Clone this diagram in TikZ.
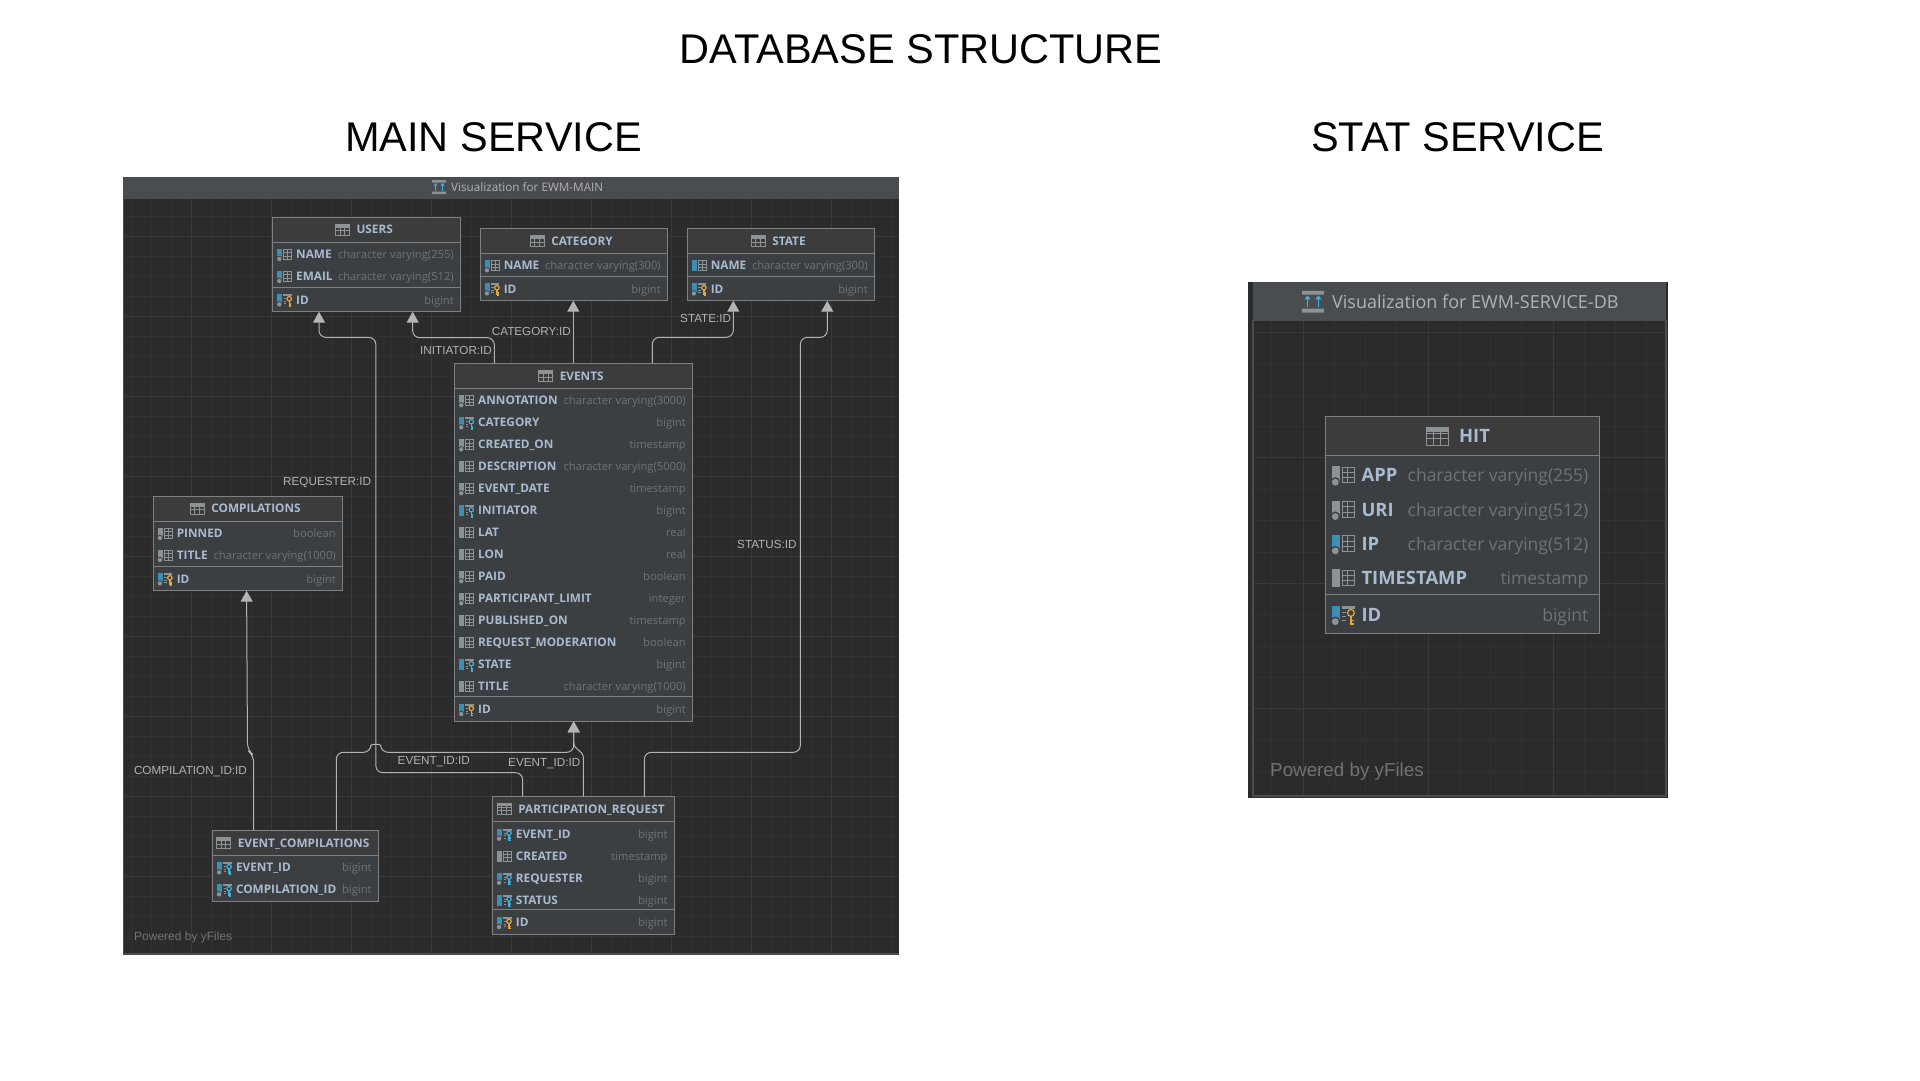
\documentclass[tikz,border=0pt]{standalone}
\usepackage{fontspec}
\usepackage{xcolor}
\usepackage{tikz}
\usetikzlibrary{arrows.meta}
\setmainfont{Liberation Sans}
\newfontfamily\dbfont{Open Sans}
\definecolor{EWMBack}{HTML}{2B2B2B}
\definecolor{EWMGrid}{HTML}{313131}
\definecolor{EWMMajor}{HTML}{393939}
\definecolor{EWMBar}{HTML}{4A4D50}
\definecolor{EWMRow}{HTML}{3C3F41}
\definecolor{EWMHead}{HTML}{3C3C3C}
\definecolor{EWMLine}{HTML}{7E8082}
\definecolor{EWMName}{HTML}{A9BBD0}
\definecolor{EWMType}{HTML}{707274}
\definecolor{EWMLink}{HTML}{B4B4B4}
\definecolor{EWMLabel}{HTML}{B0B2B4}
\definecolor{EWMBlue}{HTML}{3B8FB4}
\definecolor{EWMGray}{HTML}{8D9294}
\definecolor{EWMKeyB}{HTML}{40B0DC}
\definecolor{EWMKeyG}{HTML}{E5A73A}
\def\nokw{none}
\def\yeskw{yes}
\tikzset{
  tbicon/.pic={
    \draw[EWMGray, line width=0.8pt] (-7,-5.5) rectangle (7,5.5);
    \draw[EWMGray, line width=0.8pt] (-7,-2.2) -- (7,-2.2) (-7,1.2) -- (7,1.2)
      (-2.3,-5.5) -- (-2.3,5.5) (2.3,-5.5) -- (2.3,5.5);
    \fill[EWMGray] (-7,-5.5) rectangle (7,-3);
  },
  viewicon/.pic={
    \fill[EWMGray] (-7,-7) rectangle (7,-4.5) (-7,4.5) rectangle (7,7);
    \draw[EWMKeyB, line width=1pt] (-3.5,3.5) -- (-3.5,-2) (3.5,3.5) -- (3.5,-2);
    \fill[EWMKeyB] (-5.5,-1.5) -- (-3.5,-4) -- (-1.5,-1.5) -- cycle
      (1.5,-1.5) -- (3.5,-4) -- (5.5,-1.5) -- cycle;
  },
  pics/colicon/.style n args={3}{code={
    \fill[#1] (0,-5.5) rectangle (5,5.5);
    \edef\dotflag{#2}\edef\keyflag{#3}
    \ifx\dotflag\yeskw
      \fill[EWMRow] (2,4.6) circle (3.2);
      \fill[EWMGray] (2,4.6) circle (2.2);
    \fi
    \ifx\keyflag\nokw
      \draw[EWMGray, line width=0.8pt] (6.5,-5) rectangle (14.5,5)
        (6.5,-1.7) -- (14.5,-1.7) (6.5,1.7) -- (14.5,1.7) (10,-5) -- (10,5);
    \else
      \fill[EWMGray] (6,-5.5) rectangle (14.5,-3.5);
      \draw[EWMGray, line width=0.8pt] (6.5,-1) -- (9,-1) (6.5,1.5) -- (9,1.5) (6.5,4) -- (9,4);
      \draw[#3, line width=1.2pt] (12,-1) circle (2.2);
      \draw[#3, line width=1.6pt] (12,1) -- (12,6.5) (12,4) -- (14,4) (12,6.2) -- (14,6.2);
    \fi
  }},
  tbbox/.style={rectangle, draw=EWMLine, line width=1pt, fill=EWMRow, inner sep=0pt, outer sep=0pt},
  tbline/.style={draw=EWMLine, line width=1pt},
  tbtitle/.style={anchor=base, inner sep=0pt, yshift=-0.36*\fsz pt, text=EWMName, font=\dbfont\bfseries\fontsize{\fsz}{\fsz}\selectfont},
  colname/.style={anchor=base west, inner sep=0pt, yshift=-0.36*\fsz pt, text=EWMName, font=\dbfont\bfseries\fontsize{\fsz}{\fsz}\selectfont},
  coltype/.style={anchor=base east, inner sep=0pt, yshift=-0.36*\fsz pt, text=EWMType, font=\dbfont\fontsize{\tsz}{\tsz}\selectfont},
  head/.style={anchor=base, inner sep=0pt, yshift=-14.8pt, text=black, font=\fontsize{41.5}{42}\selectfont},
  lbl/.style={anchor=base west, inner sep=0pt, yshift=-4.1pt, text=EWMLabel, font=\fontsize{11.7}{12}\selectfont},
  barlbl/.style={anchor=base west, inner sep=0pt, text=EWMLabel, font=\dbfont},
  powered/.style={anchor=base west, inner sep=0pt, text=EWMType},
  fk/.style={draw=EWMLink, line width=1pt, rounded corners=7pt,
    -{Triangle[length=11pt,width=12pt,fill=EWMLink]}}
}
% scale, name, left, right, top, bottom, title, rows
\newcommand{\dbtable}[8]{
  \pgfmathsetmacro\fsz{11.8*#1}
  \pgfmathsetmacro\tsz{11.2*#1}
  \pgfmathsetmacro\rowx{#3+23.3*#1}
  \pgfmathsetmacro\typex{#4-6.7*#1}
  \node[tbbox, minimum width={(#4-#3)*1pt}, minimum height={(#6-#5)*1pt}] (#2)
    at ({(#3+#4)/2},{(#5+#6)/2}) {};
  \fill[EWMHead] (#3+0.5,#5+0.5) rectangle (#4-0.5,#5+25*#1);
  \draw[tbline] (#3,#5+25*#1) -- (#4,#5+25*#1);
  \node[tbtitle] (#2-title) at ({(#3+#4)/2+8*#1},#5+12.6*#1) {#7};
  \path ([xshift=-14pt*#1,yshift=0.36*\fsz pt]#2-title.base west) pic[scale=#1] {tbicon};
  \foreach \nm/\ty/\barc/\dotc/\keyc [count=\i] in {#8} {
    \pgfmathsetmacro\rowy{#5+(37.4+(\i-1)*22)*#1}
    \path (#3+4.6*#1,\rowy) pic[scale=#1] {colicon={\barc}{\dotc}{\keyc}};
    \node[colname] (#2-\i) at (\rowx,\rowy) {\nm};
    \node[coltype] (#2-\i-t) at (\typex,\rowy) {\ty};
  }
}
% scale, name, left, right, bottom
\newcommand{\idrow}[5]{
  \pgfmathsetmacro\fsz{11.8*#1}
  \pgfmathsetmacro\tsz{11.2*#1}
  \draw[tbline] (#3,#5-24.4*#1) -- (#4,#5-24.4*#1);
  \path (#3+4.6*#1,#5-11.9*#1) pic[scale=#1] {colicon={EWMBlue}{yes}{EWMKeyG}};
  \node[colname] (#2-id) at (#3+23.3*#1,#5-11.9*#1) {ID};
  \node[coltype] (#2-id-t) at (#4-6.7*#1,#5-11.9*#1) {bigint};
}
\begin{document}
\begin{tikzpicture}[x=1pt, y=-1pt]
  \useasboundingbox (0,0) rectangle (1920,1080);
  \fill[white] (0,0) rectangle (1920,1080);

  \node[head] (dbtitle) at (921,49) {DATABASE STRUCTURE};
  \node[head] (maintitle) at (493.5,137) {MAIN SERVICE};
  \node[head] (stattitle) at (1457.5,137) {STAT SERVICE};

  % main panel
  \fill[EWMBack] (123,177) rectangle (899,955);
  \foreach \x in {131.7,151.7,...,891.7} \draw[EWMGrid, line width=0.6pt] (\x,199) -- (\x,953);
  \foreach \y in {216.7,236.7,...,950} \draw[EWMGrid, line width=0.6pt] (123,\y) -- (899,\y);
  \foreach \x in {191.7,271.7,...,891.7} \draw[EWMMajor, line width=1pt] (\x,199) -- (\x,953);
  \foreach \y in {236.7,316.7,...,950} \draw[EWMMajor, line width=1pt] (123,\y) -- (899,\y);
  \fill[EWMBar] (123,177) rectangle (899,199);
  \draw[EWMBar, line width=1.2pt] (123.5,199) -- (123.5,954) -- (899,954);
  \node[barlbl, font=\dbfont\fontsize{11.7}{12}\selectfont] (mainbar) at (451,191) {Visualization for EWM-MAIN};
  \path (439,187) pic {viewicon};
  \node[powered, font=\fontsize{12}{12}\selectfont] (mainpower) at (134,940) {Powered by yFiles};

  \dbtable{1}{users}{272.7}{460.7}{217}{311.7}{USERS}{
    NAME/character varying(255)/EWMBlue/yes/none,
    EMAIL/character varying(512)/EWMBlue/yes/none}
  \idrow{1}{users}{272.7}{460.7}{311.7}
  \dbtable{1}{category}{480.3}{667.7}{228.3}{300.7}{CATEGORY}{
    NAME/character varying(300)/EWMBlue/yes/none}
  \idrow{1}{category}{480.3}{667.7}{300.7}
  \dbtable{1}{state}{687.3}{874.7}{228.3}{300.7}{STATE}{
    NAME/character varying(300)/EWMBlue/no/none}
  \idrow{1}{state}{687.3}{874.7}{300.7}
  \dbtable{1}{events}{454.7}{692.7}{363.3}{721.3}{EVENTS}{
    ANNOTATION/character varying(3000)/EWMGray/yes/none,
    CATEGORY/bigint/EWMBlue/yes/EWMKeyB,
    CREATED\_ON/timestamp/EWMGray/yes/none,
    DESCRIPTION/character varying(5000)/EWMGray/no/none,
    EVENT\_DATE/timestamp/EWMGray/yes/none,
    INITIATOR/bigint/EWMBlue/no/EWMKeyB,
    LAT/real/EWMGray/no/none,
    LON/real/EWMGray/no/none,
    PAID/boolean/EWMGray/yes/none,
    PARTICIPANT\_LIMIT/integer/EWMGray/yes/none,
    PUBLISHED\_ON/timestamp/EWMGray/no/none,
    REQUEST\_MODERATION/boolean/EWMGray/no/none,
    STATE/bigint/EWMBlue/no/EWMKeyB,
    TITLE/character varying(1000)/EWMGray/no/none}
  \idrow{1}{events}{454.7}{692.7}{721.3}
  \dbtable{1}{compilations}{153.3}{342.7}{496}{590.7}{COMPILATIONS}{
    PINNED/boolean/EWMGray/yes/none,
    TITLE/character varying(1000)/EWMGray/yes/none}
  \idrow{1}{compilations}{153.3}{342.7}{590.7}
  \dbtable{1}{evcomp}{212.5}{378.5}{830.3}{901.7}{EVENT\_COMPILATIONS}{
    EVENT\_ID/bigint/EWMBlue/yes/EWMKeyB,
    COMPILATION\_ID/bigint/EWMBlue/yes/EWMKeyB}
  \dbtable{1}{partreq}{492.4}{674.5}{796.7}{934.3}{PARTICIPATION\_REQUEST}{
    EVENT\_ID/bigint/EWMBlue/yes/EWMKeyB,
    CREATED/timestamp/EWMGray/no/none,
    REQUESTER/bigint/EWMBlue/yes/EWMKeyB,
    STATUS/bigint/EWMBlue/no/EWMKeyB}
  \idrow{1}{partreq}{492.4}{674.5}{934.3}

  % links
  \draw[fk] ([xshift=-79.4pt]events.north) -- ++(0,-25.6) -| ([xshift=46pt]users.south);
  \draw[fk] ([xshift=-0.4pt]events.north) -- ([xshift=-0.7pt]category.south);
  \draw[fk] ([xshift=78.6pt]events.north) -- ++(0,-26) -| ([xshift=-47.7pt]state.south);
  \draw[fk] ([xshift=-60.8pt]partreq.north) -- ++(0,-24) -| ++(-146.8,-435.3) -| ([xshift=-47.7pt]users.south);
  \draw[fk] ([xshift=60.9pt]partreq.north) -- ++(0,-44.4) -| ++(156,-415) -| ([xshift=46.3pt]state.south);
  \draw[fk] ([xshift=-41.8pt]evcomp.north) -- ++(0,-75) -- ++(-6.2,-5) -- ([xshift=-1.4pt]compilations.south);
  \coordinate (hopa) at (370.5,752.3);
  \coordinate (hopb) at (381,752.3);
  \draw[fk] ([xshift=40.8pt]evcomp.north) |- (hopa) .. controls (371,744) and (380.5,744) .. (hopb) -| (events.south);
  \draw[fk, rounded corners=0pt] (partreq.north) -- ++(0,-38) .. controls ++(0,-10) and (573.7,752) .. ([yshift=-20pt]events.south) -- (events.south);

  \node[lbl] (catlbl) at (491.7,331.7) {CATEGORY:ID};
  \node[lbl] (initlbl) at (420,350) {INITIATOR:ID};
  \node[lbl] (reqlbl) at (283,481.7) {REQUESTER:ID};
  \node[lbl] (statelbl) at (680,318.7) {STATE:ID};
  \node[lbl] (statuslbl) at (737,544.7) {STATUS:ID};
  \node[lbl] (ev1lbl) at (397.5,760.7) {EVENT\_ID:ID};
  \node[lbl] (ev2lbl) at (508,762.7) {EVENT\_ID:ID};
  \node[lbl] (complbl) at (133.8,770.7) {COMPILATION\_ID:ID};

  % stat panel
  \fill[EWMBack] (1248.3,282.3) rectangle (1667.7,798);
  \foreach \x in {1271.75,1303,...,1660} \draw[EWMGrid, line width=0.6pt] (\x,320) -- (\x,796);
  \foreach \y in {332,363.4,...,790} \draw[EWMGrid, line width=0.6pt] (1253,\y) -- (1666,\y);
  \foreach \x in {1303,1428,1553} \draw[EWMMajor, line width=1pt] (\x,320) -- (\x,796);
  \foreach \y in {332,457.7,583,708.4} \draw[EWMMajor, line width=1pt] (1253,\y) -- (1666,\y);
  \fill[EWMBar] (1253,282.3) rectangle (1666,320.7);
  \draw[EWMBar, line width=1.4pt] (1253,320) -- (1253,796) -- (1666,796) -- (1666,320);
  \node[barlbl, font=\dbfont\fontsize{18}{18}\selectfont] (statbar) at (1332,308) {Visualization for EWM-SERVICE-DB};
  \path (1313,301.7) pic[scale=1.56] {viewicon};
  \node[powered, font=\fontsize{18.8}{19}\selectfont] (statpower) at (1270,776.5) {Powered by yFiles};

  \dbtable{1.56}{hit}{1325}{1599}{416.7}{633}{HIT}{
    APP/character varying(255)/EWMGray/yes/none,
    URI/character varying(512)/EWMGray/yes/none,
    IP/character varying(512)/EWMBlue/yes/none,
    TIMESTAMP/timestamp/EWMGray/no/none}
  \idrow{1.56}{hit}{1325}{1599}{633}
\end{tikzpicture}
\end{document}
